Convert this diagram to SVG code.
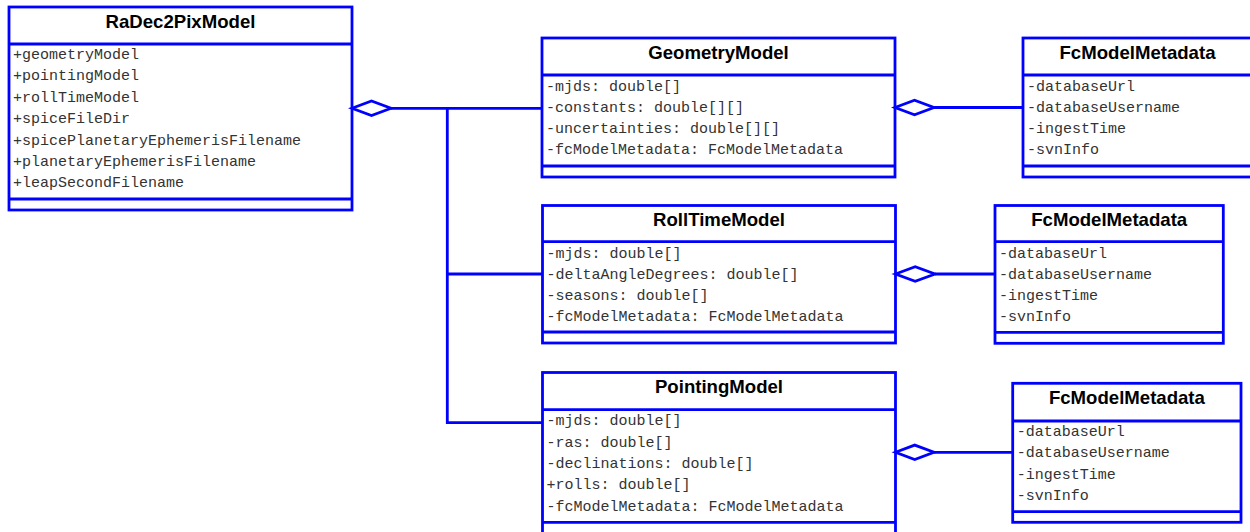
<svg xmlns="http://www.w3.org/2000/svg" width="1250" height="532" viewBox="0 0 1250 532">
<style>
.box{fill:#fff;stroke:#0000ff;stroke-width:2.8}
.sep{stroke:#0000ff;stroke-width:2.8;fill:none}
.title{font-family:"Liberation Sans",Arial,sans-serif;font-weight:bold;font-size:18.6px;fill:#000;text-anchor:middle}
.attr{font-family:"Liberation Mono","Courier New",monospace;font-size:15px;fill:#333}
.conn{stroke:#0000ff;stroke-width:2.8;fill:none}
.dia{fill:#fff;stroke:#0000ff;stroke-width:2.8}
</style>
<rect width="1250" height="532" fill="#fff"/>

<g id="radec2pixmodel">
<rect class="box" x="9" y="7" width="343" height="203"/>
<line class="sep" x1="9" y1="44" x2="352" y2="44"/>
<line class="sep" x1="9" y1="199" x2="352" y2="199"/>
<text class="title" x="180.5" y="27.5">RaDec2PixModel</text>
<text class="attr" x="13" y="59">+geometryModel</text>
<text class="attr" x="13" y="80.4">+pointingModel</text>
<text class="attr" x="13" y="101.8">+rollTimeModel</text>
<text class="attr" x="13" y="123.2">+spiceFileDir</text>
<text class="attr" x="13" y="144.6">+spicePlanetaryEphemerisFilename</text>
<text class="attr" x="13" y="166">+planetaryEphemerisFilename</text>
<text class="attr" x="13" y="187.4">+leapSecondFilename</text>
</g>

<g id="geometrymodel">
<rect class="box" x="542" y="38" width="353" height="139"/>
<line class="sep" x1="542" y1="75" x2="895" y2="75"/>
<line class="sep" x1="542" y1="166" x2="895" y2="166"/>
<text class="title" x="718.5" y="58.5">GeometryModel</text>
<text class="attr" x="546" y="90.5">-mjds: double[]</text>
<text class="attr" x="546" y="111.8">-constants: double[][]</text>
<text class="attr" x="546" y="133.1">-uncertainties: double[][]</text>
<text class="attr" x="546" y="154.4">-fcModelMetadata: FcModelMetadata</text>
</g>

<g id="fcmodelmetadata-1">
<rect class="box" x="1023" y="38" width="229" height="139"/>
<line class="sep" x1="1023" y1="75" x2="1252" y2="75"/>
<line class="sep" x1="1023" y1="166" x2="1252" y2="166"/>
<text class="title" x="1137.5" y="58.5">FcModelMetadata</text>
<text class="attr" x="1027" y="90.5">-databaseUrl</text>
<text class="attr" x="1027" y="111.8">-databaseUsername</text>
<text class="attr" x="1027" y="133.1">-ingestTime</text>
<text class="attr" x="1027" y="154.4">-svnInfo</text>
</g>

<g id="rolltimemodel">
<rect class="box" x="542.5" y="205.5" width="353" height="137.5"/>
<line class="sep" x1="542.5" y1="241.7" x2="895.5" y2="241.7"/>
<line class="sep" x1="542.5" y1="332" x2="895.5" y2="332"/>
<text class="title" x="719" y="225.7">RollTimeModel</text>
<text class="attr" x="546.5" y="257.5">-mjds: double[]</text>
<text class="attr" x="546.5" y="278.8">-deltaAngleDegrees: double[]</text>
<text class="attr" x="546.5" y="300.1">-seasons: double[]</text>
<text class="attr" x="546.5" y="321.4">-fcModelMetadata: FcModelMetadata</text>
</g>

<g id="fcmodelmetadata-2">
<rect class="box" x="995" y="205.5" width="228.3" height="137.8"/>
<line class="sep" x1="995" y1="241.7" x2="1223.3" y2="241.7"/>
<line class="sep" x1="995" y1="332.3" x2="1223.3" y2="332.3"/>
<text class="title" x="1109.2" y="225.7">FcModelMetadata</text>
<text class="attr" x="999" y="257.5">-databaseUrl</text>
<text class="attr" x="999" y="278.8">-databaseUsername</text>
<text class="attr" x="999" y="300.1">-ingestTime</text>
<text class="attr" x="999" y="321.4">-svnInfo</text>
</g>

<g id="pointingmodel">
<rect class="box" x="542.5" y="372.5" width="353" height="161"/>
<line class="sep" x1="542.5" y1="409.7" x2="895.5" y2="409.7"/>
<line class="sep" x1="542.5" y1="522.3" x2="895.5" y2="522.3"/>
<text class="title" x="719" y="393">PointingModel</text>
<text class="attr" x="546.5" y="425.3">-mjds: double[]</text>
<text class="attr" x="546.5" y="446.6">-ras: double[]</text>
<text class="attr" x="546.5" y="467.9">-declinations: double[]</text>
<text class="attr" x="546.5" y="489.2">+rolls: double[]</text>
<text class="attr" x="546.5" y="510.5">-fcModelMetadata: FcModelMetadata</text>
</g>

<g id="fcmodelmetadata-3">
<rect class="box" x="1012.7" y="383.3" width="228.3" height="139"/>
<line class="sep" x1="1012.7" y1="421" x2="1241" y2="421"/>
<line class="sep" x1="1012.7" y1="511.7" x2="1241" y2="511.7"/>
<text class="title" x="1126.9" y="404">FcModelMetadata</text>
<text class="attr" x="1016.7" y="436">-databaseUrl</text>
<text class="attr" x="1016.7" y="457.3">-databaseUsername</text>
<text class="attr" x="1016.7" y="478.6">-ingestTime</text>
<text class="attr" x="1016.7" y="499.9">-svnInfo</text>
</g>

<g id="connectors">
<polyline class="conn" points="391,108.3 542,108.3"/>
<polyline class="conn" points="447.3,108.3 447.3,422.7 542.5,422.7"/>
<polyline class="conn" points="447.3,274 542.5,274"/>
<polygon class="dia" points="352,108.3 371.5,101 391,108.3 371.5,115.6"/>
<polyline class="conn" points="934,107.5 1023,107.5"/>
<polygon class="dia" points="895,107.5 914.5,100.3 934,107.5 914.5,114.7"/>
<polyline class="conn" points="935,274 995,274"/>
<polygon class="dia" points="895.5,274 915.2,266.8 935,274 915.2,281.2"/>
<polyline class="conn" points="934,452.3 1012.7,452.3"/>
<polygon class="dia" points="895.5,452.3 914.7,445.1 934,452.3 914.7,459.5"/>
</g>
</svg>
